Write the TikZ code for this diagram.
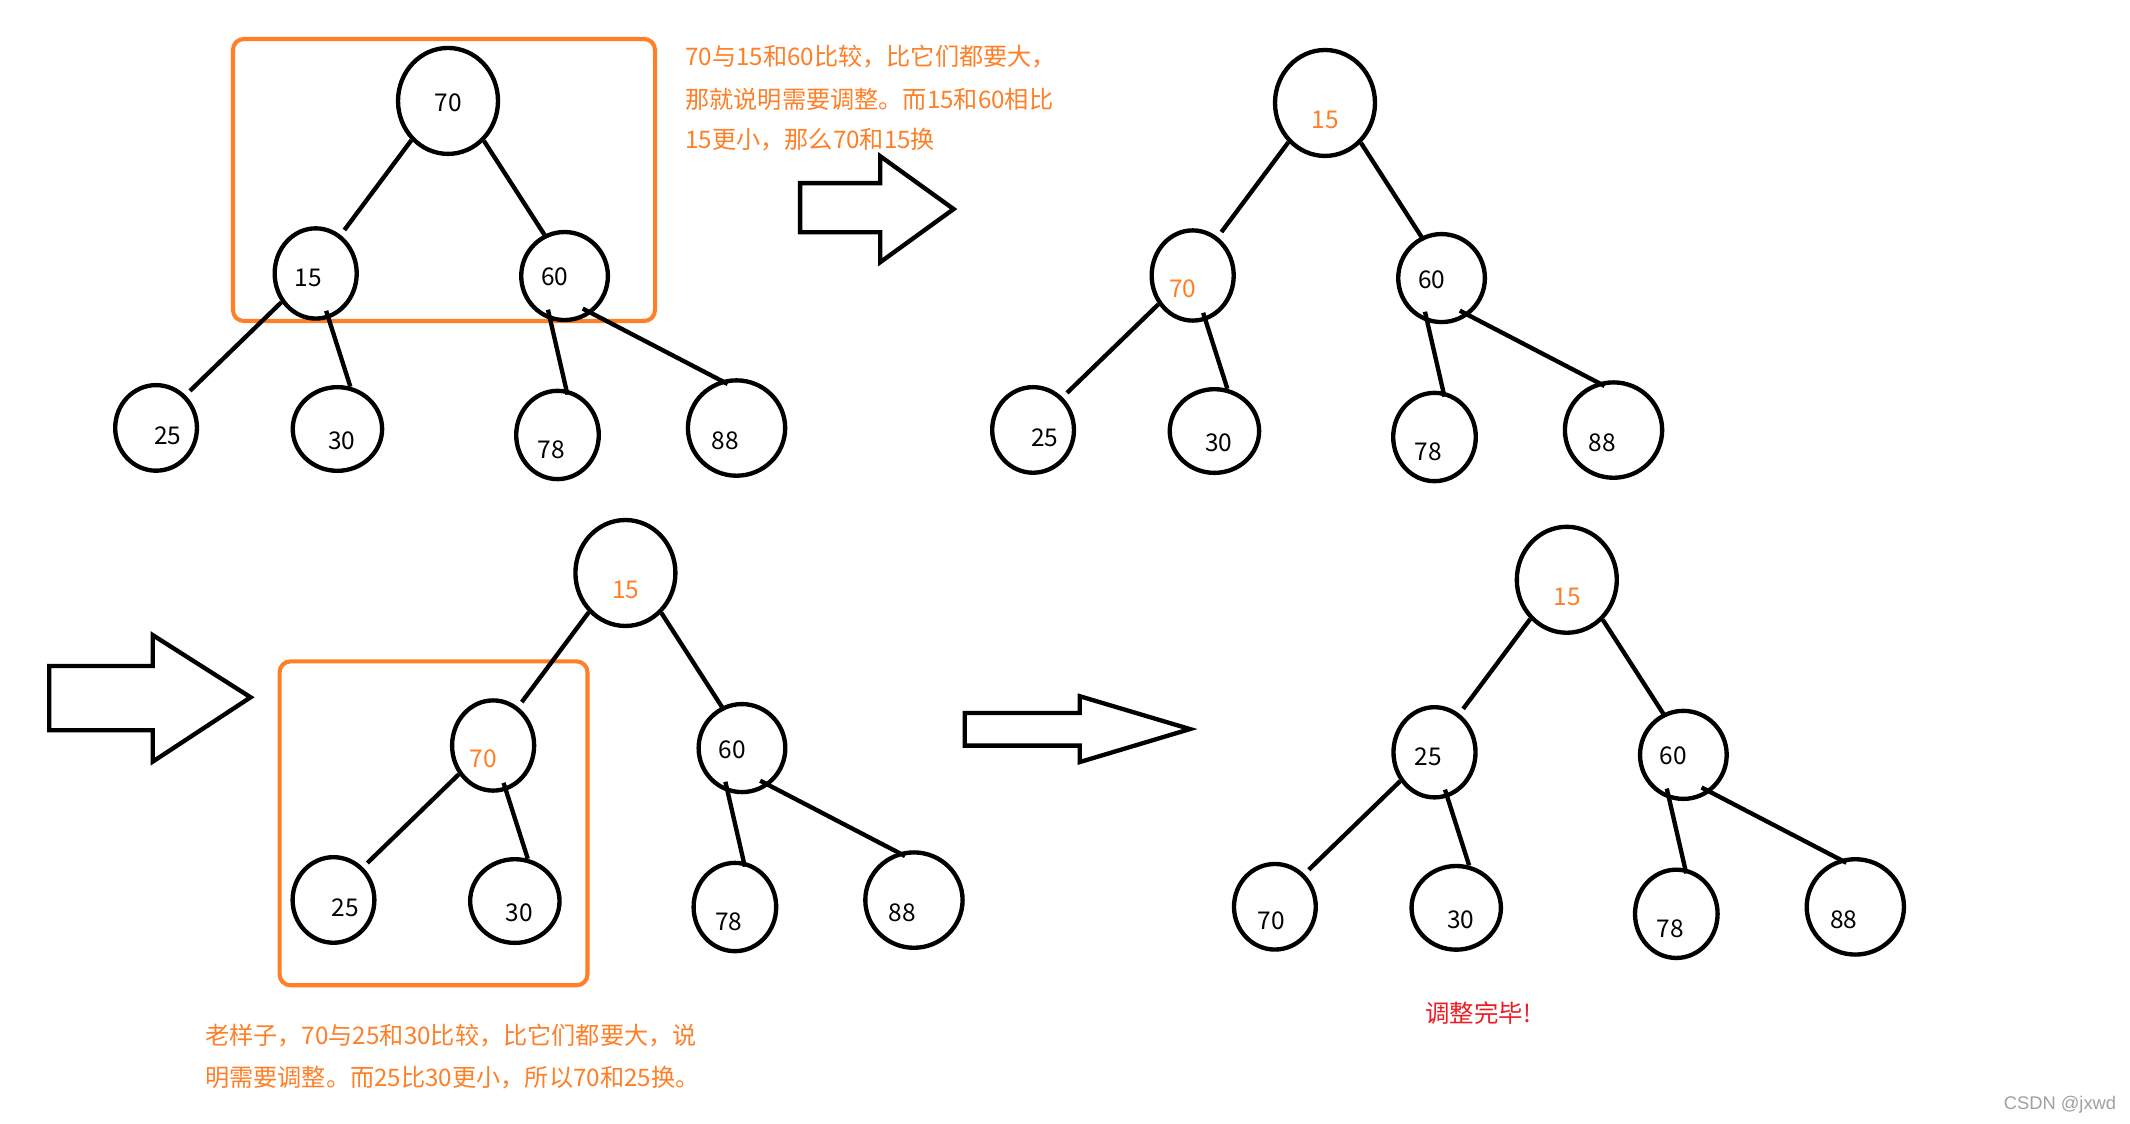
\documentclass[tikz,border=0pt]{standalone}
\usepackage{fontspec}
\setmainfont{Noto Sans CJK SC}
\newfontfamily\wmfont{Liberation Sans}
\usetikzlibrary{shapes.geometric,calc}
\definecolor{paintorange}{HTML}{FF7F27}
\definecolor{paintred}{HTML}{ED1C24}
\definecolor{wmgray}{HTML}{A0A0A0}
\newcommand\heaptree[3]{%
\begin{scope}[shift={(#2,#3)}]
 \node[circ,minimum width=73.6pt,minimum height=78pt] (#1r) at (975.4,75.8) {};
 \node[circ,minimum width=60.4pt,minimum height=66.4pt] (#1L) at (878,202.8) {};
 \node[circ,minimum width=63.8pt,minimum height=64.8pt] (#1R) at (1061.2,204.7) {};
 \node[circ,minimum width=60.2pt,minimum height=63pt] (#1LL) at (760.5,316.5) {};
 \node[circ,minimum width=65.8pt,minimum height=61.6pt] (#1LR) at (894,317.3) {};
 \node[circ,minimum width=60.8pt,minimum height=65pt] (#1RL) at (1056,321.7) {};
 \node[circ,minimum width=71.6pt,minimum height=70.2pt] (#1RR) at (1187.8,316.6) {};
\end{scope}
 \draw[edge,shorten >=4.5pt] (#1r.227) -- (#1L.57.5);
 \draw[edge,shorten >=-3pt] (#1r.-48.9) -- (#1R.116);
 \draw[edge,shorten >=4.5pt] (#1L.220.9) -- (#1LL.48.6);
 \draw[edge,shorten <=-6pt] (#1L.-74.5) -- (#1LR.73.2);
 \draw[edge,shorten <=-7.7pt,shorten >=-3.7pt] (#1R.-108.6) -- (#1RL.79.1);
 \draw[edge,shorten <=-7.3pt,shorten >=-5.4pt] (#1R.-54.4) -- (#1RR.108.8);
}
\newcommand\heaplabel[4]{\node[num,text=#4] (#1t) at ($(#1)+(#2)$) {#3};}
\begin{document}
\begin{tikzpicture}[x=1pt,y=-1pt,
  circ/.style={draw=black,line width=3.2pt,ellipse,inner sep=0pt},
  edge/.style={draw=black,line width=3.2pt},
  num/.style={inner sep=0pt,font=\fontsize{18}{18}\selectfont},
  hlbox/.style={draw=paintorange,line width=3pt,rounded corners=8pt},
  blockarrow/.style={draw=black,line width=3.2pt,line join=miter},
  note/.style={inner sep=0pt,anchor=west,text=paintorange,font=\fontsize{17.8}{17.8}\selectfont}]
\fill[white] (0,0) rectangle (1568,827.4);
\useasboundingbox (0,0) rectangle (1568,827.4);

% highlight boxes
\draw[hlbox] (171.5,28.7) rectangle (482.2,236.3);
\draw[hlbox] (205.8,486.9) rectangle (432.5,725.3);

% trees
\heaptree{A}{-645.6}{-1.5}
\heaptree{B}{0}{0}
\heaptree{C}{-515}{346}
\heaptree{D}{178}{351}

% tree A labels
\heaplabel{Ar}{0.2,1.3}{70}{black}
\heaplabel{AL}{-5.4,3.6}{15}{black}
\heaplabel{AR}{-7.3,0.9}{60}{black}
\heaplabel{ALL}{8.5,5.9}{25}{black}
\heaplabel{ALR}{3.2,8.7}{30}{black}
\heaplabel{ARL}{-4.5,10.8}{78}{black}
\heaplabel{ARR}{-8.4,9.4}{88}{black}
% tree B labels
\heaplabel{Br}{0.4,12.5}{15}{paintorange}
\heaplabel{BL}{-7.3,10}{70}{paintorange}
\heaplabel{BR}{-7.3,0.9}{60}{black}
\heaplabel{BLL}{8.5,5.9}{25}{black}
\heaplabel{BLR}{3.2,8.7}{30}{black}
\heaplabel{BRL}{-4.5,10.8}{78}{black}
\heaplabel{BRR}{-8.4,9.4}{88}{black}
% tree C labels
\heaplabel{Cr}{0.4,12.5}{15}{paintorange}
\heaplabel{CL}{-7.3,10}{70}{paintorange}
\heaplabel{CR}{-7.3,0.9}{60}{black}
\heaplabel{CLL}{8.5,5.9}{25}{black}
\heaplabel{CLR}{3.2,8.7}{30}{black}
\heaplabel{CRL}{-4.5,10.8}{78}{black}
\heaplabel{CRR}{-8.4,9.4}{88}{black}
% tree D labels
\heaplabel{Dr}{0.4,12.5}{15}{paintorange}
\heaplabel{DL}{-4.7,3.2}{25}{black}
\heaplabel{DR}{-7.3,0.9}{60}{black}
\heaplabel{DLL}{-2.5,10.3}{70}{black}
\heaplabel{DLR}{3.2,8.7}{30}{black}
\heaplabel{DRL}{-4.5,10.8}{78}{black}
\heaplabel{DRR}{-8.4,9.4}{88}{black}

% block arrows
\draw[blockarrow] (589,134.8) -- (648,134.8) -- (648,115) -- (702,153.9) -- (648,193) -- (648,171) -- (589,171) -- cycle;
\draw[blockarrow] (36.3,490.3) -- (112.4,490.3) -- (112.4,467.5) -- (184.5,513.3) -- (112.4,560.7) -- (112.4,537.6) -- (36.3,537.6) -- cycle;
\draw[blockarrow] (710.2,524.9) -- (794.8,524.9) -- (794.8,512.5) -- (876,536.7) -- (794.8,561) -- (794.8,548.9) -- (710.2,548.9) -- cycle;

% notes
\node[note] (n1) at (504.3,41.7) {70与15和60比较，比它们都要大，};
\node[note] (n2) at (504.3,73.2) {那就说明需要调整。而15和60相比};
\node[note] (n3) at (504.3,103) {15更小，那么70和15换};
\node[note] (n4) at (150.9,762.5) {老样子，70与25和30比较，比它们都要大，说};
\node[note] (n5) at (150.9,793) {明需要调整。而25比30更小，所以70和25换。};
\node[note,text=paintred,font=\fontsize{18}{18}\selectfont] (n6) at (1049,745.8) {调整完毕!};
\node[inner sep=0pt,anchor=east,text=wmgray,font=\wmfont\fontsize{13.5}{13.5}\selectfont] (wm) at (1558,813) {CSDN @jxwd};
\end{tikzpicture}
\end{document}
